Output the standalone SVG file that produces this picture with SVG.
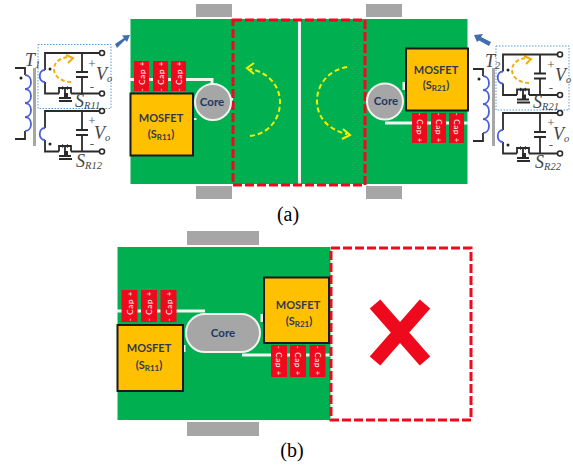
<svg xmlns="http://www.w3.org/2000/svg" xmlns:xlink="http://www.w3.org/1999/xlink" width="573" height="468" viewBox="0 0 573 468">
<style>
.board{fill:#00b050}
.pad{fill:#a6a6a6}
.trace{stroke:#f2f2f2;stroke-width:3;fill:none}
.cut{fill:none;stroke:#ee0a1c;stroke-width:3;stroke-dasharray:9 3}
.mos{fill:#ffc000;stroke:#1a1a1a;stroke-width:2}
.core{fill:#a6a6a6;stroke:#f2f2f2;stroke-width:2}
.cap{fill:#ee0a1c}
.captext{fill:#fff;font:8px Lato,"Liberation Sans",sans-serif;text-anchor:middle;letter-spacing:.7px}
.mostext{fill:#33384f;font:700 11px Lato,"Liberation Sans",sans-serif;text-anchor:middle}
.coretext{fill:#1f3864;font:700 11.5px Lato,"Liberation Sans",sans-serif;text-anchor:middle}
.flow{fill:none;stroke:#f5f000;stroke-width:2;stroke-dasharray:5 3}
.head{fill:none;stroke:#f5f000;stroke-width:2}
.cur{fill:none;stroke:#f0ad10;stroke-width:2;stroke-dasharray:4 2.500}
.curhead{fill:none;stroke:#f0ad10;stroke-width:2}
.wire{fill:none;stroke:#2b2b2b;stroke-width:1.800}
.coil{fill:none;stroke:#4a5fd8;stroke-width:1.800}
.ring{fill:#fff;stroke:#2b2b2b;stroke-width:1.600}
.sel{fill:none;stroke:#5b9bd5;stroke-width:1;stroke-dasharray:1.500 1.500}
.tcore{fill:#a6a6a6}
.math{fill:#444;font:italic 18px "Liberation Serif",serif}
.sub{font-size:10.500px}
.sym{fill:#555;font:13px "Liberation Serif",serif;text-anchor:middle}
.cap-label{fill:#000;font:20px "Liberation Serif",serif;text-anchor:middle}
.pointer{fill:#3f6eb0}
</style>
<defs>
<g id="cell">
<path class="wire" d="M45 70V53H100M45 82V93.500H59M71 93.500H100M82 53V72M76 72H88M76 77H88M82 77V93.500"/>
<circle class="ring" cx="102" cy="53" r="2.500"/>
<circle class="ring" cx="102" cy="93.500" r="2.500"/>
<path class="coil" d="M45 70C38 70 38 82 45 82"/>
<path class="wire" d="M59 93.500V88H71V93.500M59 98H71M59 101H72M65 98V88"/>
<path d="M62 86l3 2 3-2v4l-3-2-3 2z" fill="#2b2b2b"/>
<rect x="64" y="93" width="4" height="5" fill="#2b2b2b"/>
</g>
<g id="cap"><rect class="cap" x="0" y="0" width="15" height="30"/></g>
</defs>

<g id="board-a">
<rect class="board" x="130.500" y="19" width="337" height="165"/>
<rect class="pad" x="196" y="4" width="36" height="13"/>
<rect class="pad" x="196" y="186" width="36" height="13"/>
<rect class="pad" x="366" y="4" width="36" height="13"/>
<rect class="pad" x="366" y="186" width="36" height="13"/>
<path class="trace" d="M299.500 20V184"/>
<path class="trace" d="M130 79.500H212V85M195 118V120M228 99H233M365 99H370M404 82V90"/>
<path class="trace" d="M385 123H468"/>
<rect class="cut" x="233" y="20" width="132" height="165"/>
</g>

<g id="core-a-left"><circle class="core" cx="213" cy="102" r="18"/><text class="coretext" x="212" y="106">Core</text></g>
<g id="core-a-right"><circle class="core" cx="385" cy="101.500" r="18"/><text class="coretext" x="386" y="105">Core</text></g>

<g id="mosfet-a-s11"><rect class="mos" x="130.500" y="93.500" width="62.500" height="62"/><text class="mostext" x="161" y="122">MOSFET</text><text class="mostext" x="161" y="138">(S<tspan font-size="8" dy="2">R11</tspan><tspan dy="-2">)</tspan></text></g>
<g id="mosfet-a-s21"><rect class="mos" x="406" y="48.500" width="62" height="62"/><text class="mostext" x="436" y="74">MOSFET</text><text class="mostext" x="436" y="89">(S<tspan font-size="8" dy="2">R21</tspan><tspan dy="-2">)</tspan></text></g>

<g id="caps-a-left">
<use xlink:href="#cap" href="#cap" x="134" y="61"/><use xlink:href="#cap" href="#cap" x="153" y="61"/><use xlink:href="#cap" href="#cap" x="171" y="61"/>
<text class="captext" transform="translate(144.500 76) rotate(-90)">- Cap +</text>
<text class="captext" transform="translate(163.500 76) rotate(-90)">- Cap +</text>
<text class="captext" transform="translate(181.500 76) rotate(-90)">- Cap +</text>
</g>
<g id="caps-a-right">
<use xlink:href="#cap" href="#cap" x="412" y="113"/><use xlink:href="#cap" href="#cap" x="431" y="113"/><use xlink:href="#cap" href="#cap" x="449" y="113"/>
<text class="captext" transform="translate(416.500 128) rotate(90)">- Cap +</text>
<text class="captext" transform="translate(435.500 128) rotate(90)">- Cap +</text>
<text class="captext" transform="translate(453.500 128) rotate(90)">- Cap +</text>
</g>

<g id="connectors">
<path class="flow" d="M250 136C268 134 280 120 280 102C280 86 268 72 250 69"/>
<path class="head" d="M254 63L247 68L254 74"/>
<path class="flow" d="M347 67C329 70 317 84 317 101C317 118 329 130 347 134"/>
<path class="head" d="M343 129L350 135L342 139"/>
<path class="flow" d="M245 283H209"/>
<path class="head" d="M212 278L206 283L212 288"/>
<path class="flow" d="M206 378H242"/>
<path class="head" d="M239 373L245 378L239 383"/>
<path class="pointer" d="M115 44L124 38L122 35.500L130 35L127 42L125 40L117 48Z"/>
<path class="pointer" d="M491 42L481 37L483 34L474 35L477 42L479 40.500L489 46Z"/>
<path class="cur" d="M71 82C64 82 54 78 54 69C54 62 61 57 70 57"/>
<path class="cur" d="M529 83C522 83 512 79 512 70C512 63 519 58 528 58"/>
<path class="curhead" d="M66 55L73 58L68 63"/>
<path class="curhead" d="M524 56L531 59L526 64"/>
</g>

<g id="circuit-left">
<rect class="sel" x="38" y="44.500" width="73" height="64"/>
<use xlink:href="#cell" href="#cell"/>
<use xlink:href="#cell" href="#cell" y="58"/>
<path class="wire" d="M15 68H25V75M25 131V139H15"/>
<path class="coil" d="M25 75C33 75 33 89 25 89C33 89 33 103 25 103C33 103 33 117 25 117C33 117 33 131 25 131"/>
<rect class="tcore" x="33" y="68" width="3" height="78"/>
<circle cx="21" cy="78" r="1.500" fill="#222"/><circle cx="50" cy="69" r="1.500" fill="#222"/><circle cx="50" cy="144" r="1.500" fill="#222"/>
<text class="math" x="25" y="66">T<tspan class="sub" dy="2">1</tspan></text>
<text class="sym" x="92" y="68">+</text><text class="sym" x="92" y="91">-</text>
<text class="sym" x="92" y="125">+</text><text class="sym" x="92" y="148">-</text>
<text class="math" x="96" y="80">V<tspan class="sub" dy="2">o</tspan></text>
<text class="math" x="94" y="139">V<tspan class="sub" dy="2">o</tspan></text>
<text class="math" x="75" y="107">S<tspan class="sub" dy="2">R11</tspan></text>
<text class="math" x="76" y="167">S<tspan class="sub" dy="2">R12</tspan></text>
</g>

<g id="circuit-right">
<rect class="sel" x="496" y="46" width="73" height="64"/>
<use xlink:href="#cell" href="#cell" x="458" y="1.500"/>
<use xlink:href="#cell" href="#cell" x="458" y="60"/>
<path class="wire" d="M473 69H483V76M483 133V141H473"/>
<path class="coil" d="M483 76C491 76 491 90 483 90C491 90 491 104 483 104C491 104 491 119 483 119C491 119 491 133 483 133"/>
<rect class="tcore" x="492" y="68" width="3" height="78"/>
<circle cx="479" cy="79" r="1.500" fill="#222"/><circle cx="508" cy="70" r="1.500" fill="#222"/><circle cx="508" cy="145" r="1.500" fill="#222"/>
<text class="math" x="485" y="67">T<tspan class="sub" dy="2">2</tspan></text>
<text class="sym" x="551" y="69">+</text><text class="sym" x="551" y="92">-</text>
<text class="sym" x="551" y="127">+</text><text class="sym" x="551" y="149">-</text>
<text class="math" x="555" y="81">V<tspan class="sub" dy="2">o</tspan></text>
<text class="math" x="553" y="140">V<tspan class="sub" dy="2">o</tspan></text>
<text class="math" x="533" y="108">S<tspan class="sub" dy="2">R21</tspan></text>
<text class="math" x="535" y="168">S<tspan class="sub" dy="2">R22</tspan></text>
</g>

<text id="label-a" class="cap-label" x="288" y="221">(a)</text>

<g id="board-b">
<rect class="board" x="117.500" y="247" width="213" height="173"/>
<rect class="pad" x="187" y="231" width="72" height="14"/>
<rect class="pad" x="187" y="422" width="72" height="14"/>
<path class="trace" d="M117 311H205M184 345V352M262 314V322"/>
<path class="trace" d="M242 355H330"/>
<rect class="cut" x="331" y="248" width="140" height="172"/>
<path d="M375 304L425 361M425 304L375 361" stroke="#ee0a1c" stroke-width="14" fill="none"/>
</g>

<g id="core-b"><rect class="core" x="186" y="314" width="74" height="38" rx="19" ry="19"/><text class="coretext" x="223" y="337">Core</text></g>
<g id="mosfet-b-s11"><rect class="mos" x="117.500" y="325" width="65.500" height="66"/><text class="mostext" x="149" y="352">MOSFET</text><text class="mostext" x="149" y="369">(S<tspan font-size="8" dy="2">R11</tspan><tspan dy="-2">)</tspan></text></g>
<g id="mosfet-b-s21"><rect class="mos" x="264" y="277.500" width="65" height="65.500"/><text class="mostext" x="298" y="309">MOSFET</text><text class="mostext" x="299" y="325">(S<tspan font-size="8" dy="2">R21</tspan><tspan dy="-2">)</tspan></text></g>

<g id="caps-b-left">
<rect class="cap" x="121.500" y="290" width="16" height="32"/><rect class="cap" x="141" y="290" width="16" height="32"/><rect class="cap" x="160.500" y="290" width="16" height="32"/>
<text class="captext" transform="translate(132.500 306) rotate(-90)">- Cap +</text>
<text class="captext" transform="translate(152 306) rotate(-90)">- Cap +</text>
<text class="captext" transform="translate(171.500 306) rotate(-90)">- Cap +</text>
</g>
<g id="caps-b-right">
<rect class="cap" x="271" y="345" width="16" height="32"/><rect class="cap" x="290" y="345" width="16" height="32"/><rect class="cap" x="309.500" y="345" width="16" height="32"/>
<text class="captext" transform="translate(276 361) rotate(90)">- Cap +</text>
<text class="captext" transform="translate(295 361) rotate(90)">- Cap +</text>
<text class="captext" transform="translate(314.500 361) rotate(90)">- Cap +</text>
</g>

<text id="label-b" class="cap-label" x="292" y="457">(b)</text>
</svg>
